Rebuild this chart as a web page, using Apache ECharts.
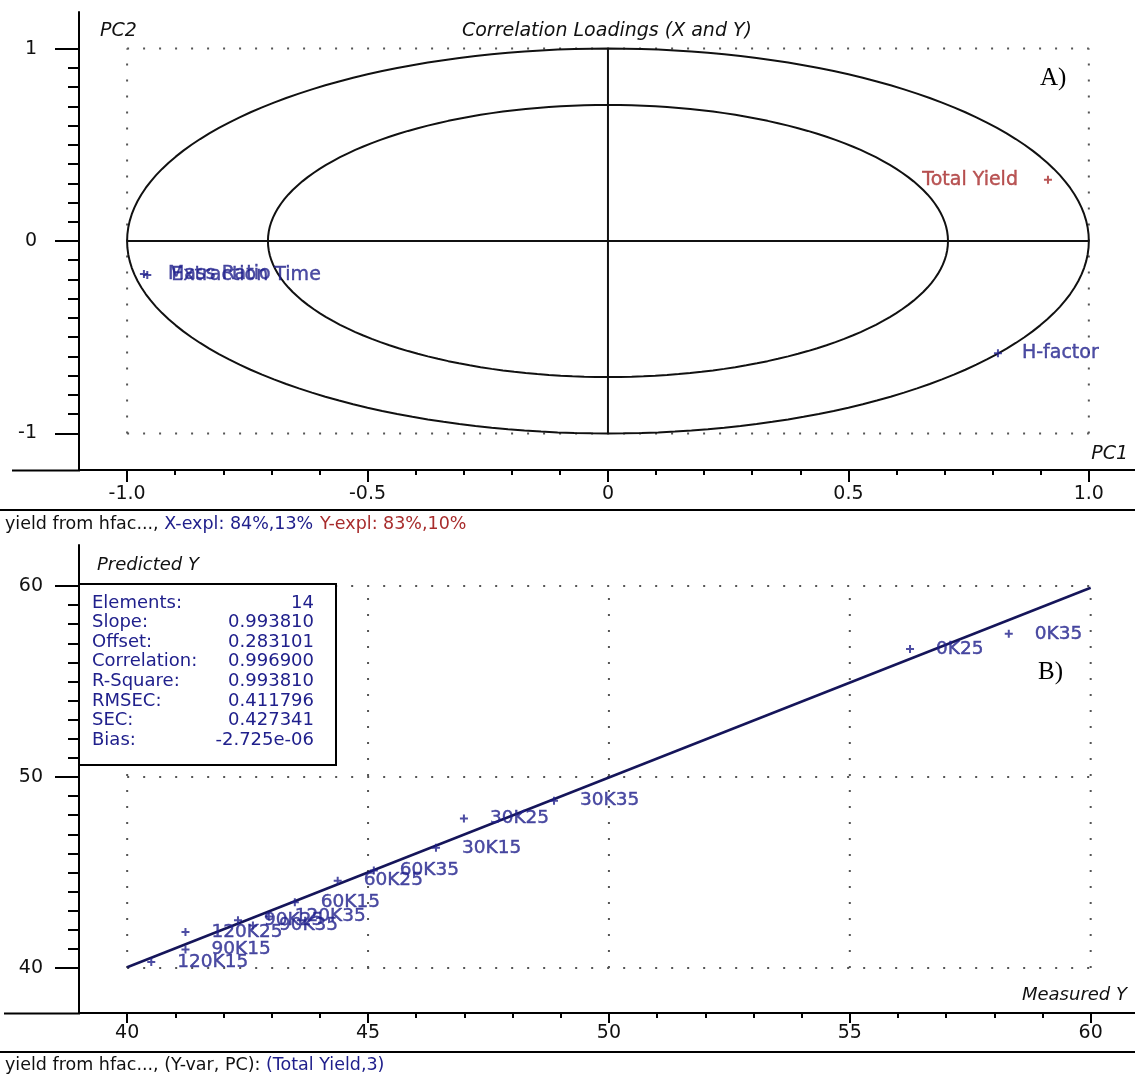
<!DOCTYPE html>
<html>
<head>
<meta charset="utf-8">
<script src="https://cdn.jsdelivr.net/npm/echarts@6/dist/echarts.min.js"></script>
<style>
html,body{margin:0;padding:0;background:#fff;}
#chart{width:1135px;height:1082px;}
</style>
</head>
<body>
<div id="chart"></div>
<script>
// ---------- DATA ----------
// Panel A: correlation loadings
const loadingNames = ['Mass Ratio', 'Extraction Time', 'H-factor', 'Total Yield'];
const loadingPC1   = [-0.965, -0.958, 0.811, 0.915];
const loadingPC2   = [-0.172, -0.177, -0.583, 0.318];
const loadingType  = ['X', 'X', 'X', 'Y'];
const circleRadii  = [1.0, Math.SQRT1_2];
const boxXs = [-1, 1];
const boxYs = [-1, 1];
const xTicksA = [-1.0, -0.5, 0, 0.5, 1.0];
const yTicksA = [-1, 0, 1];

// Panel B: predicted vs measured
const sampleNames = ['0K25','0K35','30K15','30K25','30K35','60K15','60K25','60K35','90K15','90K25','90K35','120K15','120K25','120K35'];
const measuredY   = [56.25, 58.30, 46.41, 46.99, 48.86, 43.48, 44.37, 45.12, 41.21, 42.30, 42.61, 40.50, 41.21, 42.94];
const predictedY  = [56.70, 57.50, 46.29, 47.82, 48.76, 43.44, 44.57, 45.10, 40.96, 42.50, 42.22, 40.31, 41.88, 42.70];
const xTicksB = [40, 45, 50, 55, 60];
const yTicksB = [40, 50, 60];
const gridXsB = [40, 45, 50, 55, 60];
const gridYsB = [40, 50, 60];
const statNames  = ['Elements:', 'Slope:', 'Offset:', 'Correlation:', 'R-Square:', 'RMSEC:', 'SEC:', 'Bias:'];
const statValues = ['14', '0.993810', '0.283101', '0.996900', '0.993810', '0.411796', '0.427341', '-2.725e-06'];
const fitSlope = 0.993810, fitOffset = 0.283101;
const fitRange = [40, 60];

// ---------- STYLE ----------
const FONT = 'DejaVu Sans';
const BLUE = '#20208c';
const RED = '#a82c2c';
const DOT = {color: '#555', width: 2, type: [2, 14]};
const plusPath = 'path://M3,0L5,0L5,3L8,3L8,5L5,5L5,8L3,8L3,5L0,5L0,3L3,3Z';
const TICKFS = 19;

function minorVals(a, b, step, skipEvery) {
  const out = [];
  const n = Math.round((b - a) / step);
  for (let i = 0; i <= n; i++) {
    if (i % skipEvery !== 0) out.push(+(a + i * step).toFixed(6));
  }
  return out;
}

function axisBase(extra) {
  return Object.assign({
    type: 'value',
    splitLine: {show: false},
    axisLine: {show: true, onZero: false, lineStyle: {color: '#000', width: 2}},
  }, extra);
}

const xAxes = [
  axisBase({gridIndex: 0, min: -1.1, max: 1.096, position: 'bottom',
    axisTick: {show: true, length: 12, lineStyle: {color: '#000', width: 2}, customValues: xTicksA},
    axisLabel: {customValues: xTicksA, margin: 15, fontSize: TICKFS, fontFamily: FONT, color: '#111',
      formatter: v => (Math.abs(v) < 1e-9 ? '0' : v.toFixed(1))}}),
  axisBase({gridIndex: 0, min: -1.1, max: 1.096, position: 'bottom',
    axisLine: {show: false, onZero: false},
    axisTick: {show: true, length: 5, lineStyle: {color: '#000', width: 2}, customValues: minorVals(-1, 1, 0.1, 5)},
    axisLabel: {show: false}}),
  axisBase({gridIndex: 1, min: 39, max: 60.92, position: 'bottom',
    axisTick: {show: true, length: 10, lineStyle: {color: '#000', width: 2}, customValues: xTicksB},
    axisLabel: {customValues: xTicksB, margin: 11, fontSize: TICKFS, fontFamily: FONT, color: '#111'}}),
  axisBase({gridIndex: 1, min: 39, max: 60.92, position: 'bottom',
    axisLine: {show: false, onZero: false},
    axisTick: {show: true, length: 5, lineStyle: {color: '#000', width: 2}, customValues: minorVals(40, 60, 1, 5)},
    axisLabel: {show: false}})
];

const yAxes = [
  axisBase({gridIndex: 0, min: -1.19, max: 1.19, position: 'left',
    axisTick: {show: true, length: 24, lineStyle: {color: '#000', width: 2}, customValues: yTicksA},
    axisLabel: {customValues: yTicksA, margin: 42, fontSize: TICKFS, fontFamily: FONT, color: '#111'}}),
  axisBase({gridIndex: 0, min: -1.19, max: 1.19, position: 'left',
    axisLine: {show: false, onZero: false},
    axisTick: {show: true, length: 11, lineStyle: {color: '#000', width: 2}, customValues: minorVals(-1, 1, 0.1, 10)},
    axisLabel: {show: false}}),
  axisBase({gridIndex: 1, min: 37.64, max: 62.15, position: 'left',
    axisTick: {show: true, length: 24, lineStyle: {color: '#000', width: 2}, customValues: yTicksB},
    axisLabel: {customValues: yTicksB, margin: 36, fontSize: TICKFS, fontFamily: FONT, color: '#111'}}),
  axisBase({gridIndex: 1, min: 37.64, max: 62.15, position: 'left',
    axisLine: {show: false, onZero: false},
    axisTick: {show: true, length: 11, lineStyle: {color: '#000', width: 2}, customValues: minorVals(40, 60, 1, 10)},
    axisLabel: {show: false}})
];

const series = [];
function seg(xi, yi, pts, style, z) {
  series.push({type: 'line', xAxisIndex: xi, yAxisIndex: yi, data: pts, showSymbol: false,
    symbol: 'none', silent: true, lineStyle: style, z: z || 2, animation: false});
}

// Panel A dotted box
boxYs.forEach(y => seg(0, 0, [[boxXs[0], y], [boxXs[1], y]], DOT, 1));
boxXs.forEach(x => seg(0, 0, [[x, boxYs[0]], [x, boxYs[1]]], DOT, 1));
// circles (unit and 50% explained variance)
circleRadii.forEach(r => {
  const pts = [];
  for (let a = 0; a <= 360; a += 2) {
    const t = a * Math.PI / 180;
    pts.push([r * Math.cos(t), r * Math.sin(t)]);
  }
  seg(0, 0, pts, {color: '#111', width: 2}, 3);
});
// cross
seg(0, 0, [[-1, 0], [1, 0]], {color: '#111', width: 2}, 3);
seg(0, 0, [[0, -1], [0, 1]], {color: '#111', width: 2}, 3);

// loadings points
series.push({
  type: 'scatter', xAxisIndex: 0, yAxisIndex: 0, symbol: plusPath, symbolSize: 8, z: 5,
  data: loadingNames.map((n, i) => ({
    name: n, value: [loadingPC1[i], loadingPC2[i]],
    itemStyle: {color: loadingType[i] === 'Y' ? RED : BLUE},
    label: {
      show: true, formatter: n,
      position: loadingType[i] === 'Y' ? 'left' : 'right',
      distance: loadingType[i] === 'Y' ? 26 : 20,
      color: loadingType[i] === 'Y' ? RED : BLUE,
      textBorderColor: loadingType[i] === 'Y' ? RED : BLUE, textBorderWidth: 0.4,
      fontFamily: FONT, fontSize: 19
    }
  }))
});

// Panel B dotted grid
gridYsB.forEach(y => seg(2, 2, [[gridXsB[0], y], [gridXsB[gridXsB.length - 1], y]], DOT, 1));
gridXsB.forEach(x => seg(2, 2, [[x, gridYsB[0]], [x, gridYsB[gridYsB.length - 1]]], DOT, 1));
// regression line
seg(2, 2, fitRange.map(x => [x, fitSlope * x + fitOffset]), {color: '#15155a', width: 2.5}, 3);
// samples
series.push({
  type: 'scatter', xAxisIndex: 2, yAxisIndex: 2, symbol: plusPath, symbolSize: 8, z: 5,
  itemStyle: {color: BLUE},
  label: {show: true, position: 'right', distance: 22, formatter: p => p.name,
    color: BLUE, textBorderColor: BLUE, textBorderWidth: 0.4, fontFamily: FONT, fontSize: 18.5},
  data: sampleNames.map((n, i) => ({name: n, value: [measuredY[i], predictedY[i]]}))
});

// ---------- GRAPHICS (frame pieces, titles, footers, stats box) ----------
const g = [];
function hline(x1, x2, y, w) {
  g.push({type: 'line', shape: {x1: x1, y1: y, x2: x2, y2: y}, style: {stroke: '#000', lineWidth: w || 2}, z: 10});
}
function txt(x, y, text, opts) {
  g.push({type: 'text', x: x, y: y, z: 20, style: Object.assign({
    text: text, fontFamily: FONT, fontSize: 17, fill: '#111',
    textAlign: 'left', textVerticalAlign: 'middle'}, opts || {})});
}
hline(12, 80, 470.5);
hline(0, 1135, 510);
hline(4, 80, 1013.5);
hline(0, 1135, 1052);

txt(100, 31, 'PC2', {fontStyle: 'italic', fontSize: 19});
txt(607, 31, 'Correlation Loadings (X and Y)', {fontStyle: 'italic', fontSize: 19, textAlign: 'center'});
txt(1128, 454, 'PC1', {fontStyle: 'italic', fontSize: 19, textAlign: 'right'});
txt(1040, 78, 'A)', {fontFamily: 'Liberation Serif', fontSize: 25, fill: '#000'});
txt(1038, 672, 'B)', {fontFamily: 'Liberation Serif', fontSize: 25, fill: '#000'});
txt(97, 565, 'Predicted Y', {fontStyle: 'italic', fontSize: 18});
txt(1127, 995, 'Measured Y', {fontStyle: 'italic', fontSize: 18, textAlign: 'right'});

g.push({type: 'text', x: 5, y: 524, z: 20, style: {
  text: '{k|yield from hfac..., }{b|X-expl: 84%,13%}  {r|Y-expl: 83%,10%}',
  textVerticalAlign: 'middle',
  rich: {
    k: {fontFamily: FONT, fontSize: 17.5, fill: '#111', color: '#111'},
    b: {fontFamily: FONT, fontSize: 17.5, fill: BLUE, color: BLUE},
    r: {fontFamily: FONT, fontSize: 17.5, fill: RED, color: RED}
  }}});
g.push({type: 'text', x: 5, y: 1065, z: 20, style: {
  text: '{k|yield from hfac..., (Y-var, PC): }{b|(Total Yield,3)}',
  textVerticalAlign: 'middle',
  rich: {
    k: {fontFamily: FONT, fontSize: 17.5, fill: '#111', color: '#111'},
    b: {fontFamily: FONT, fontSize: 17.5, fill: BLUE, color: BLUE}
  }}});

// stats box
g.push({type: 'rect', shape: {x: 79, y: 584, width: 257, height: 181},
  style: {fill: '#fff', stroke: '#000', lineWidth: 2}, z: 15});
statNames.forEach((n, i) => {
  const y = 603 + i * 19.6;
  txt(92, y, n, {fill: BLUE, fontSize: 18});
  txt(314, y, statValues[i], {fill: BLUE, fontSize: 18, textAlign: 'right'});
});

const chart = echarts.init(document.getElementById('chart'), null, {renderer: 'canvas'});
chart.setOption({
  animation: false,
  backgroundColor: '#fff',
  grid: [
    {left: 79, right: 0, top: 12, height: 458, containLabel: false},
    {left: 79, right: 0, top: 545, height: 468, containLabel: false}
  ],
  xAxis: xAxes,
  yAxis: yAxes,
  series: series,
  graphic: g
});
</script>
</body>
</html>
